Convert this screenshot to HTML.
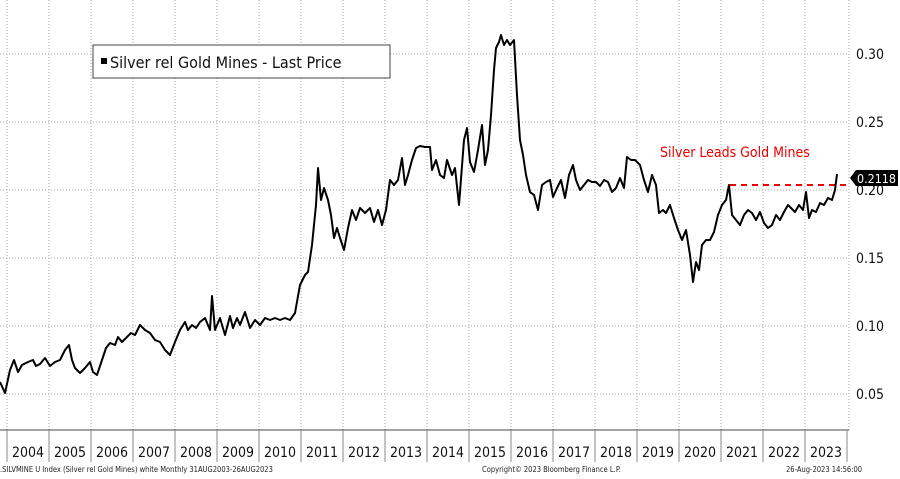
<!DOCTYPE html><html><head><style>
body{margin:0;background:#fff;width:900px;height:475px;overflow:hidden;font-family:"DejaVu Sans Condensed","Liberation Sans",sans-serif}
</style></head><body>
<svg width="900" height="475" xmlns="http://www.w3.org/2000/svg" font-family="DejaVu Sans Condensed, Liberation Sans, sans-serif">
<rect width="900" height="475" fill="#fff"/>
<g stroke="#aaa" stroke-dasharray="1,2" stroke-width="1">
<line x1="0" y1="54" x2="849" y2="54"/><line x1="0" y1="122" x2="849" y2="122"/><line x1="0" y1="190" x2="849" y2="190"/><line x1="0" y1="258" x2="849" y2="258"/><line x1="0" y1="326" x2="849" y2="326"/><line x1="0" y1="394" x2="849" y2="394"/>
<line x1="849" y1="0" x2="849" y2="430"/>
</g>
<g stroke="#aaa" stroke-dasharray="1,2">
<line x1="7" y1="0" x2="7" y2="430"/><line x1="49" y1="0" x2="49" y2="430"/><line x1="91" y1="0" x2="91" y2="430"/><line x1="133" y1="0" x2="133" y2="430"/><line x1="175" y1="0" x2="175" y2="430"/><line x1="217" y1="0" x2="217" y2="430"/><line x1="259" y1="0" x2="259" y2="430"/><line x1="301" y1="0" x2="301" y2="430"/><line x1="343" y1="0" x2="343" y2="430"/><line x1="385" y1="0" x2="385" y2="430"/><line x1="427" y1="0" x2="427" y2="430"/><line x1="469" y1="0" x2="469" y2="430"/><line x1="511" y1="0" x2="511" y2="430"/><line x1="553" y1="0" x2="553" y2="430"/><line x1="595" y1="0" x2="595" y2="430"/><line x1="637" y1="0" x2="637" y2="430"/><line x1="679" y1="0" x2="679" y2="430"/><line x1="721" y1="0" x2="721" y2="430"/><line x1="763" y1="0" x2="763" y2="430"/><line x1="805" y1="0" x2="805" y2="430"/>
</g>
<line x1="0" y1="430" x2="849" y2="430" stroke="#444"/>
<g stroke="#888">
<line x1="7" y1="430" x2="7" y2="462"/><line x1="49" y1="430" x2="49" y2="462"/><line x1="91" y1="430" x2="91" y2="462"/><line x1="133" y1="430" x2="133" y2="462"/><line x1="175" y1="430" x2="175" y2="462"/><line x1="217" y1="430" x2="217" y2="462"/><line x1="259" y1="430" x2="259" y2="462"/><line x1="301" y1="430" x2="301" y2="462"/><line x1="343" y1="430" x2="343" y2="462"/><line x1="385" y1="430" x2="385" y2="462"/><line x1="427" y1="430" x2="427" y2="462"/><line x1="469" y1="430" x2="469" y2="462"/><line x1="511" y1="430" x2="511" y2="462"/><line x1="553" y1="430" x2="553" y2="462"/><line x1="595" y1="430" x2="595" y2="462"/><line x1="637" y1="430" x2="637" y2="462"/><line x1="679" y1="430" x2="679" y2="462"/><line x1="721" y1="430" x2="721" y2="462"/><line x1="763" y1="430" x2="763" y2="462"/><line x1="805" y1="430" x2="805" y2="462"/><line x1="847" y1="430" x2="847" y2="462"/>
</g>
<g font-size="14" fill="#111" text-anchor="middle">
<text x="28" y="457">2004</text><text x="70" y="457">2005</text><text x="112" y="457">2006</text><text x="154" y="457">2007</text><text x="196" y="457">2008</text><text x="238" y="457">2009</text><text x="280" y="457">2010</text><text x="322" y="457">2011</text><text x="364" y="457">2012</text><text x="406" y="457">2013</text><text x="448" y="457">2014</text><text x="490" y="457">2015</text><text x="532" y="457">2016</text><text x="574" y="457">2017</text><text x="616" y="457">2018</text><text x="658" y="457">2019</text><text x="700" y="457">2020</text><text x="742" y="457">2021</text><text x="784" y="457">2022</text><text x="826" y="457">2023</text>
</g>
<g font-size="14" fill="#111">
<text x="856" y="59">0.30</text><text x="856" y="127">0.25</text><text x="856" y="195">0.20</text><text x="856" y="263">0.15</text><text x="856" y="331">0.10</text><text x="856" y="399">0.05</text>
</g>
<g font-size="7.5" fill="#222">
<text x="0" y="472">.SILVMINE U Index (Silver rel Gold Mines) white  Monthly 31AUG2003-26AUG2023</text>
<text x="482" y="472">Copyright© 2023 Bloomberg Finance L.P.</text>
<text x="786" y="472">26-Aug-2023 14:56:00</text>
</g>
<rect x="93" y="45" width="297" height="33" fill="#fff" stroke="#444"/>
<rect x="101" y="58" width="6" height="6" fill="#000"/>
<text x="110" y="68" font-size="16" fill="#111">Silver rel Gold Mines - Last Price</text>
<text x="660" y="157" font-size="14" fill="#e00">Silver Leads Gold Mines</text>
<line x1="730" y1="185" x2="846" y2="185" stroke="#e00" stroke-width="2" stroke-dasharray="6,5"/>
<polyline fill="none" stroke="#000" stroke-width="2" stroke-linejoin="round" points="0,382 5,393 10,370 14,360 18,372 22,365 28,362 33,360 36,366 40,364 45,358 50,366 55,362 60,360 65,350 69,345 72,360 75,368 80,373 85,368 90,362 93,372 97,375 102,360 106,348 110,343 115,345 118,337 122,342 126,338 131,333 135,335 140,325 145,330 150,333 155,340 160,342 165,350 170,355 175,342 180,330 185,322 188,330 192,325 196,328 200,322 205,318 210,330 212,296 215,330 220,318 225,335 230,316 233,328 237,318 240,325 245,312 250,328 255,320 260,325 265,318 270,320 275,318 280,320 285,318 290,320 295,313 300,285 305,275 308,272 312,245 316,205 318,168 321,200 324,188 328,200 331,215 334,238 337,228 340,238 344,250 348,228 352,210 356,220 360,208 365,213 370,208 374,222 378,210 382,225 386,210 390,180 394,185 398,180 402,158 405,185 408,175 412,160 416,148 420,146 425,147 430,147 432,170 436,160 440,175 444,178 447,160 452,175 455,168 459,205 464,140 467,128 470,162 474,172 478,150 482,125 485,165 488,150 491,115 494,70 496,48 499,42 501,35 504,45 507,40 510,45 514,40 517,95 520,140 523,155 526,175 530,192 534,195 538,210 542,185 546,182 550,180 553,197 557,188 561,180 565,198 569,175 573,165 576,180 580,190 584,185 588,180 592,182 596,182 600,186 604,180 608,182 612,192 616,188 620,178 624,188 627,157 631,160 635,160 640,165 644,180 648,192 652,175 656,185 659,213 663,210 666,213 670,205 674,218 678,230 682,240 686,230 690,255 693,282 696,262 699,270 702,245 706,240 710,240 714,232 718,215 722,205 726,200 729,185 732,215 736,220 740,225 744,215 748,210 752,213 756,220 760,212 764,223 768,228 772,225 776,215 780,220 784,212 788,205 791,208 795,212 799,205 803,210 806,192 809,218 812,210 816,212 820,203 824,205 828,198 832,200 835,190 837,174"/>
<polygon points="850,178 856,170 898,170 898,186 856,186" fill="#000"/>
<text x="857" y="183" font-size="12.5" fill="#fff" textLength="39" lengthAdjust="spacingAndGlyphs">0.2118</text>
</svg>
</body></html>
